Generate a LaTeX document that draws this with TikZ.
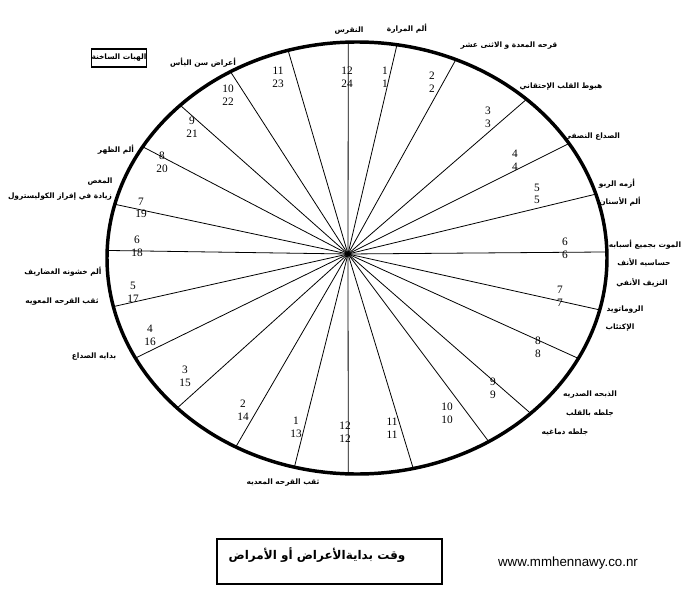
\documentclass[tikz,border=0pt]{standalone}
\usepackage{fontspec}
\setmainfont{Liberation Serif}
\newfontfamily\arabicfont[Script=Arabic]{DejaVu Sans}
\newfontfamily\webfont{Liberation Sans}
\TeXXeTstate=1
\usetikzlibrary{positioning}
\tikzset{
  spoke/.style={line width=0.6pt},
  num/.style={font=\fontsize{8.5}{9.5}\selectfont, align=center, inner sep=0pt},
  lbl/.style={font=\arabicfont\bfseries\fontsize{5.6}{7}\selectfont, inner sep=0pt},
}
\newcommand{\rtltext}[1]{\beginR #1\endR}
\begin{document}
\begin{tikzpicture}[x=0.75pt,y=-0.75pt]
\useasboundingbox (0,0) rectangle (700,603);
% clock face
\coordinate (ctr) at (357,258);
\coordinate (hub) at (348,254);
\draw[line width=2.6pt] (ctr) ellipse [x radius=187.5pt, y radius=162pt];
\foreach \t [count=\i] in {80.8,66.7,47.3,32,17.2,1.6,-13.9,-27.7,-46,-58.2,-77,-92,-104.5,-119,-136,-152.4,-167,178,165.6,149,135,120.4,106,92}{
  \coordinate (e\i) at ({357+250*cos(\t)},{258-216*sin(\t)});
  \draw[spoke] (hub) -- (e\i);
}
% hours
\node[num] (h1) at (385,77) {1\\1};
\node[num] (h2) at (432,82) {2\\2};
\node[num] (h3) at (488,117) {3\\3};
\node[num] (h4) at (515,160) {4\\4};
\node[num] (h5) at (537,194) {5\\5};
\node[num] (h6) at (565,248) {6\\6};
\node[num] (h7) at (560,296) {7\\7};
\node[num] (h8) at (538,347) {8\\8};
\node[num] (h9) at (493,388) {9\\9};
\node[num] (h10) at (447,413) {10\\10};
\node[num] (h11) at (392,428) {11\\11};
\node[num] (h12) at (345,432) {12\\12};
\node[num] (h13) at (296,427) {1\\13};
\node[num] (h14) at (243,410) {2\\14};
\node[num] (h15) at (185,376) {3\\15};
\node[num] (h16) at (150,335) {4\\16};
\node[num] (h17) at (133,292) {5\\17};
\node[num] (h18) at (137,246) {6\\18};
\node[num] (h19) at (141,208) {7\\19};
\node[num] (h20) at (162,162) {8\\20};
\node[num] (h21) at (192,127) {9\\21};
\node[num] (h22) at (228,95) {10\\22};
\node[num] (h23) at (278,77) {11\\23};
\node[num] (h24) at (347,77) {12\\24};
% symptoms
\node[lbl] (gout) at (349,31) {\rtltext{النقرس}};
\node[lbl] (gall) at (407,29) {\rtltext{ألم المرارة}};
\node[lbl] (ulcer) at (509,46) {\rtltext{قرحه المعدة و الاثنى عشر}};
\node[lbl] (heart) at (561,87) {\rtltext{هبوط القلب الإحتقاني}};
\node[lbl] (migraine) at (592,137) {\rtltext{الصداع النصفي}};
\node[lbl] (asthma) at (617,184) {\rtltext{أزمه الربو}};
\node[lbl] (tooth) at (620,202) {\rtltext{ألم الأسنان}};
\node[lbl] (death) at (645,245) {\rtltext{الموت بجميع أسبابه}};
\node[lbl] (allergy) at (644,263) {\rtltext{حساسيه الأنف}};
\node[lbl] (nose) at (642,283) {\rtltext{النزيف الأنفي}};
\node[lbl] (rheuma) at (625,310) {\rtltext{الروماتويد}};
\node[lbl] (depress) at (620,328) {\rtltext{الإكتئاب}};
\node[lbl] (angina) at (590,395) {\rtltext{الذبحه الصدريه}};
\node[lbl] (infarct) at (590,413) {\rtltext{جلطه بالقلب}};
\node[lbl] (stroke) at (565,432) {\rtltext{جلطه دماغيه}};
\node[lbl] (perfor) at (283,483) {\rtltext{ثقب القرحه المعديه}};
\node[lbl] (headache) at (94,357) {\rtltext{بدايه الصداع}};
\node[lbl] (intest) at (62,302) {\rtltext{ثقب القرحه المعويه}};
\node[lbl] (joints) at (63,272) {\rtltext{ألم خشونه الغضاريف}};
\node[lbl] (colic) at (100,182) {\rtltext{المغص}};
\node[lbl] (chol) at (60,197) {\rtltext{زيادة في إفراز الكوليسترول}};
\node[lbl] (back) at (116,150) {\rtltext{ألم الظهر}};
\node[lbl] (meno) at (203,63) {\rtltext{أعراض سن اليأس}};
\node[lbl, draw, line width=0.8pt, minimum width=53*0.75pt, minimum height=18*0.75pt] (flash) at (119,58) {\rtltext{الهبات الساخنة}};
% caption
\draw[line width=0.8pt] (217,539) rectangle (442,584);
\node[font=\arabicfont\bfseries\fontsize{9}{11}\selectfont, inner sep=0pt] (title) at (317,555) {\rtltext{وقت بدايةالأعراض أو الأمراض}};
\node[font=\webfont\fontsize{10}{12}\selectfont, inner sep=0pt] (web) at (568,563) {www.mmhennawy.co.nr};
\end{tikzpicture}
\end{document}
